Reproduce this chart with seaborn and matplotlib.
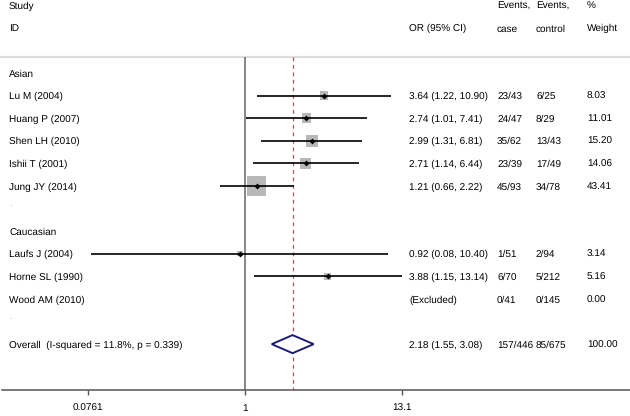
import numpy as np
import pandas as pd
import matplotlib
matplotlib.use('Agg')
import matplotlib.pyplot as plt
import matplotlib.transforms as mtransforms
import seaborn as sns

# study rows, top to bottom (row index in the table)
studies = ['Lu M (2004)', 'Huang P (2007)', 'Shen LH (2010)', 'Ishii T (2001)',
           'Jung JY (2014)', 'Laufs J (2004)', 'Horne SL (1990)', 'Wood AM (2010)']
rows = [1, 2, 3, 4, 5, 8, 9, 10]
odds = [3.64, 2.74, 2.99, 2.71, 1.21, 0.92, 3.88, np.nan]
ci_low = [1.22, 1.01, 1.31, 1.14, 0.66, 0.08, 1.15, np.nan]
ci_high = [10.90, 7.41, 6.81, 6.44, 2.22, 10.40, 13.14, np.nan]
or_text = ['3.64 (1.22, 10.90)', '2.74 (1.01, 7.41)', '2.99 (1.31, 6.81)',
           '2.71 (1.14, 6.44)', '1.21 (0.66, 2.22)', '0.92 (0.08, 10.40)',
           '3.88 (1.15, 13.14)', '(Excluded)']
ev_case = ['23/43', '24/47', '35/62', '23/39', '45/93', '1/51', '6/70', '0/41']
ev_control = ['6/25', '8/29', '13/43', '17/49', '34/78', '2/94', '5/212', '0/145']
weights = [8.03, 11.01, 15.20, 14.06, 43.41, 3.14, 5.16, 0.00]

groups = ['Asian', 'Caucasian']
group_rows = [0, 7]
spacer_rows = [6, 11]

overall_row = 12
overall_or = 2.18
overall_low = 1.55
overall_high = 3.08
overall_label = 'Overall  (I-squared = 11.8%, p = 0.339)'
overall_text = ['2.18 (1.55, 3.08)', '157/446', '85/675', '100.00']

x_ticks = [0.0761, 1, 13.1]
x_ticklabels = ['0.0761', '1', '13.1']

df = pd.DataFrame({'study': studies, 'row': rows, 'OR': odds,
                   'lo': ci_low, 'hi': ci_high, 'w': weights})

plt.rcParams['font.family'] = ['Liberation Sans', 'DejaVu Sans']
plt.rcParams['text.hinting'] = 'no_hinting'
plt.rcParams['text.hinting_factor'] = 1
fig = plt.figure(figsize=(6.3, 4.16), dpi=100)
ax = fig.add_axes([0, 0, 1, 1])
ax.set_xscale('log')
ax.set_xlim(0.01804, 549.9)
ax.set_ylim(15.18, -3.23)
ax.axis('off')

txt = '#000000'
fs = 7.55
tr = mtransforms.blended_transform_factory(fig.transFigure, ax.transData)


def put(xp, r, s, **kw):
    ax.text(xp / 630, r, s, transform=tr, fontsize=fs, color=txt,
            va='center_baseline', **kw)


# header
put(9, -3, 'Study')
put(9, -2, 'ID')
put(409, -2, 'OR (95% CI)')
put(497, -3, 'Events,')
put(497, -2, 'case')
put(536, -3, 'Events,')
put(536, -2, 'control')
put(587, -3, '%')
put(587, -2, 'Weight')

# separator and axis lines
ax.plot([0, 1], [-0.71, -0.71], transform=tr, color='#dcdcdc', lw=1.6)
ax.plot([2 / 630, 1], [14.03, 14.03], transform=tr, color='#555555', lw=1.1)

# null line and overall dashed line
ax.vlines(1, -0.71, 14.03, color='#666666', lw=1.1)
ax.vlines(overall_or, -0.71, 14.03, color='#a05a5a', lw=0.9, linestyles=(0, (3, 3)))

# CI lines
est = df.dropna()
ax.hlines(est['row'], est['lo'], est['hi'], color='black', lw=1.2, zorder=3)

# weight squares
sns.scatterplot(data=est, x='OR', y='row', size='w',
                sizes=(4.6 * est['w'].min(), 4.6 * est['w'].max()),
                marker='s', color='#b8b8b8', linewidth=0, legend=False,
                ax=ax, zorder=2)
sns.scatterplot(data=est, x='OR', y='row', marker='D', s=9, color='black',
                linewidth=0, legend=False, ax=ax, zorder=4)

# overall diamond
ax.fill([overall_low, overall_or, overall_high, overall_or],
        [overall_row, overall_row - 0.4, overall_row, overall_row + 0.4],
        facecolor='white', edgecolor='#1c1c78', lw=1.4, zorder=5)

# group labels and spacers
for g, r in zip(groups, group_rows):
    put(9, r, g)
for r in spacer_rows:
    ax.text(9 / 630, r, '.', transform=tr, fontsize=fs, color='#c8c8c8', va='bottom')

# study rows
for i in range(len(studies)):
    r = rows[i]
    put(9, r, studies[i])
    put(409, r, or_text[i])
    put(497, r, ev_case[i])
    put(536, r, ev_control[i])
    put(587, r, f'{weights[i]:.2f}')

# overall row
put(9, overall_row, overall_label)
for xp, t in zip([409, 497, 536, 587], overall_text):
    put(xp, overall_row, t)

# x ticks
for v, lab in zip(x_ticks, x_ticklabels):
    ax.vlines(v, 14.03, 14.27, color='#555555', lw=1.0)
    ax.text(v, 14.78, lab, fontsize=fs, color=txt, ha='center', va='center_baseline')

fig.savefig('out.png', dpi=100)
